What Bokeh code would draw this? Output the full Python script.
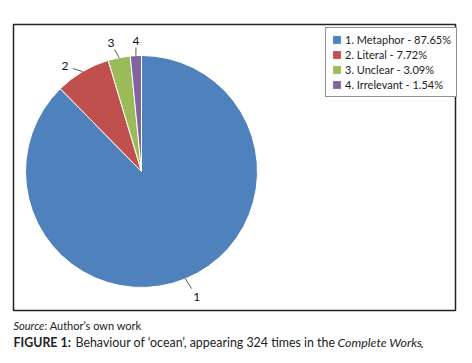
import math
from bokeh.plotting import figure
from bokeh.models import ColumnDataSource, Range1d, Legend, LegendItem
from bokeh.core.properties import value
from bokeh.embed import file_html
from bokeh.resources import INLINE

# ---- data ----
categories = ["Metaphor", "Literal", "Unclear", "Irrelevant"]
counts = [284, 25, 10, 5]          # of 324 occurrences
numbers = ["1", "2", "3", "4"]
colors = ["#4F81BD", "#C0504D", "#9BBB59", "#8064A2"]
caption_source = "Author\u2019s own work"
caption_title = "Behaviour of \u2018ocean\u2019, appearing 324 times in the "
caption_italic = "Complete Works"

total = sum(counts)
pcts = [c / total * 100 for c in counts]
labels = [f"{n}. {c} - {p:.2f}%" for n, c, p in zip(numbers, categories, pcts)]

# ---- layout ----
W, H = 472, 363
cx, cy, R = 141, H - 171, 116
FONT = "Lato"
# label nudges (px right, px up) relative to radial placement
nudge = [(5, -2), (-9, -9), (-5, -2), (1, -2)]

starts, ends, mids = [], [], []
cum = 0.0
for c in counts:
    a0 = math.pi / 2 - 2 * math.pi * cum / total
    cum += c
    a1 = math.pi / 2 - 2 * math.pi * cum / total
    starts.append(a0)
    ends.append(a1)
    mids.append((a0 + a1) / 2)

src = ColumnDataSource(dict(start=starts, end=ends, color=colors, label=labels))

p = figure(width=W, height=H, output_backend="svg", toolbar_location=None,
           x_range=Range1d(0, W), y_range=Range1d(0, H),
           min_border=0, outline_line_color=None)
p.axis.visible = False
p.grid.visible = False
p.background_fill_color = "white"

# outer chart frame
p.quad(left=[13], right=[455], bottom=[H - 310], top=[H - 24], fill_color=None,
       line_color="#222222", line_width=1.5)

w = p.wedge(x=cx, y=cy, radius=R, start_angle="start", end_angle="end",
            direction="clock", fill_color="color", line_color="white",
            line_width=1, source=src)

# leader lines and number labels
lx, ly, tx, ty = [], [], [], []
for m, (dx, dy) in zip(mids, nudge):
    ex, ey = cx + R * math.cos(m), cy + R * math.sin(m)
    px_, py_ = cx + (R + 17) * math.cos(m) + dx, cy + (R + 17) * math.sin(m) + dy
    tx.append(px_)
    ty.append(py_)
    lx.append([ex, px_ + (ex - px_) * 0.45])
    ly.append([ey, py_ + (ey - py_) * 0.45])
p.multi_line(xs=lx, ys=ly, line_color="#555555", line_width=1)
p.text(x=tx, y=ty, text=numbers, text_font=value(FONT), text_font_size="12px",
       text_align="center", text_baseline="middle", text_color="#111111")

legend = Legend(items=[LegendItem(label=labels[i], renderers=[w], index=i) for i in range(4)],
                location=(325, H - 97), margin=0, padding=5, spacing=2,
                glyph_width=11, glyph_height=11, label_height=13,
                label_standoff=3, label_text_font=FONT, label_text_font_size="11px",
                label_text_color="#222222",
                border_line_color="#222222", border_line_width=1,
                background_fill_alpha=1)
p.add_layout(legend, "center")

# captions
y1, y2 = H - 325, H - 342
p.text(x=[13], y=[y1], text=["Source"], text_font=value(FONT), text_font_size="11px",
       text_font_style="italic", text_baseline="middle", text_color="#222222")
p.text(x=[44], y=[y1], text=[": " + caption_source], text_font=value(FONT),
       text_font_size="11px", text_baseline="middle", text_color="#222222")
p.text(x=[13], y=[y2], text=["FIGURE 1:"], text_font=value(FONT), text_font_size="12.4px",
       text_font_style="bold", text_baseline="middle", text_color="#222222")
p.text(x=[75], y=[y2], text=[caption_title], text_font=value(FONT), text_font_size="12.4px",
       text_baseline="middle", text_color="#222222")
p.text(x=[337], y=[y2], text=[caption_italic], text_font=value(FONT), text_font_size="12.4px",
       text_font_style="italic", text_baseline="middle", text_color="#222222")
p.text(x=[420], y=[y2], text=["."], text_font=value(FONT), text_font_size="12.4px",
       text_baseline="middle", text_color="#222222")

open("out.html", "w").write(file_html(p, INLINE))
